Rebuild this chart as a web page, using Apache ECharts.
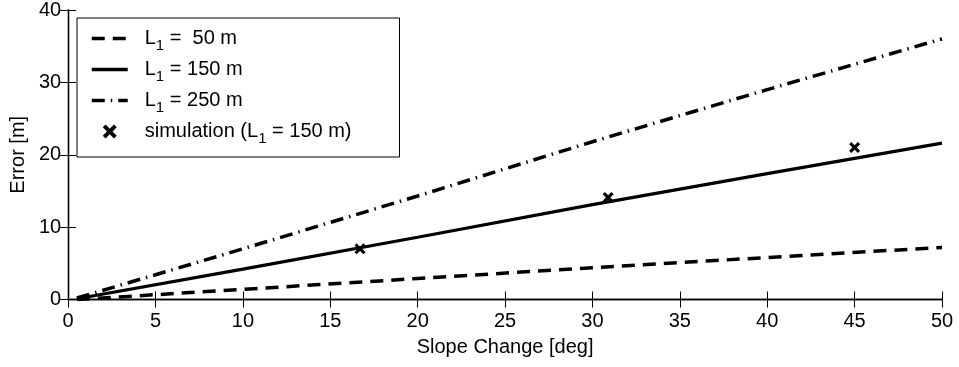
<!DOCTYPE html>
<html>
<head>
<meta charset="utf-8">
<script src="https://cdn.jsdelivr.net/npm/echarts@6/dist/echarts.min.js"></script>
<style>html,body{margin:0;padding:0;background:#fff}#c{width:959px;height:367px}</style>
</head>
<body>
<div id="c"></div>
<script>
// Data
const slopeX = [0.5, 10, 20, 30, 40, 50];
const err50 = [0.0, 1.4, 2.9, 4.4, 5.8, 7.2];
const err150 = [0.1, 4.2, 8.6, 13.1, 17.4, 21.6];
const err250 = [0.2, 7.0, 14.3, 21.8, 29.0, 36.0];
const simX = [16.7, 30.9, 45.0];
const simY = [7.0, 14.1, 21.0];
const legendLabels = ['L1 =  50 m', 'L1 = 150 m', 'L1 = 250 m', 'simulation (L1 = 150 m)'];

const pair = (xs, ys) => xs.map((x, i) => [x, ys[i]]);
const FONT = 'Liberation Sans, Arial, sans-serif';
const FS = 20;
const xMark = 'path://M2,0 L5,3 L8,0 L10,2 L7,5 L10,8 L8,10 L5,7 L2,10 L0,8 L3,5 L0,2 Z';

const chart = echarts.init(document.getElementById('c'), null, {renderer: 'canvas'});
const axisCommon = {
  axisLine: {show: true, lineStyle: {color: '#000', width: 1.3}},
  axisTick: {show: true, inside: true, length: 8, lineStyle: {color: '#000', width: 1}},
  splitLine: {show: false}
};
function fmtLegend(name) {
  const i = name.indexOf('L1');
  if (i < 0) return '{g|}{t|' + name + '}';
  return '{g|}{t|' + name.slice(0, i) + 'L}{s|1}{t|' + name.slice(i + 2) + '}';
}
const hideSym = {color: 'rgba(0,0,0,0)', borderWidth: 0, opacity: 0};
chart.setOption({
  animation: false,
  backgroundColor: '#fff',
  textStyle: {fontFamily: FONT},
  grid: {left: 67, right: 17, top: 8, bottom: 67.5},
  legend: {
    orient: 'vertical', left: 77, top: 18,
    padding: [6, 48, 11, 13],
    itemWidth: 36, itemHeight: 14, itemGap: 2,
    backgroundColor: '#fff', borderColor: '#000', borderWidth: 1, borderRadius: 0,
    lineStyle: {width: 3.5},
    data: [
      {name: legendLabels[0], itemStyle: hideSym},
      {name: legendLabels[1], itemStyle: hideSym},
      {name: legendLabels[2], itemStyle: hideSym},
      {name: legendLabels[3]}
    ],
    formatter: fmtLegend,
    textStyle: {
      fontFamily: FONT, fontSize: FS, color: '#000',
      rich: {
        g: {width: 12},
        t: {fontFamily: FONT, fontSize: FS, color: '#000', lineHeight: 24},
        s: {fontFamily: FONT, fontSize: 15, color: '#000', padding: [14, 0, 0, 0], lineHeight: 24}
      }
    }
  },
  xAxis: [
    Object.assign({type: 'value', min: 0, max: 50, interval: 5, position: 'bottom',
      name: 'Slope Change [deg]', nameLocation: 'middle', nameGap: 38,
      nameTextStyle: {fontFamily: FONT, fontSize: FS, color: '#000'},
      axisLabel: {fontFamily: FONT, fontSize: FS, color: '#000', margin: 12}}, axisCommon),
    Object.assign({type: 'value', min: 0, max: 50, interval: 5, position: 'top',
      axisLabel: {show: false}}, axisCommon)
  ],
  yAxis: [
    Object.assign({type: 'value', min: 0, max: 40, interval: 10, position: 'left',
      name: 'Error [m]', nameLocation: 'middle', nameGap: 35,
      nameTextStyle: {fontFamily: FONT, fontSize: FS, color: '#000'},
      axisLabel: {fontFamily: FONT, fontSize: FS, color: '#000', margin: 7}}, axisCommon),
    Object.assign({type: 'value', min: 0, max: 40, interval: 10, position: 'right',
      axisLabel: {show: false}}, axisCommon)
  ],
  series: [
    {name: legendLabels[0], type: 'line', data: pair(slopeX, err50), symbol: 'none',
      lineStyle: {color: '#000', width: 3.5, type: [13, 8]}, itemStyle: {color: '#000'}},
    {name: legendLabels[1], type: 'line', data: pair(slopeX, err150), symbol: 'none',
      lineStyle: {color: '#000', width: 3.2, type: 'solid'}, itemStyle: {color: '#000'}},
    {name: legendLabels[2], type: 'line', data: pair(slopeX, err250), symbol: 'none',
      lineStyle: {color: '#000', width: 3.5, type: [13, 6, 1.5, 6]}, itemStyle: {color: '#000'}},
    {name: legendLabels[3], type: 'scatter', data: pair(simX, simY), symbol: xMark, symbolSize: 11,
      itemStyle: {color: '#000', opacity: 1}, z: 5}
  ]
});
</script>
</body>
</html>
